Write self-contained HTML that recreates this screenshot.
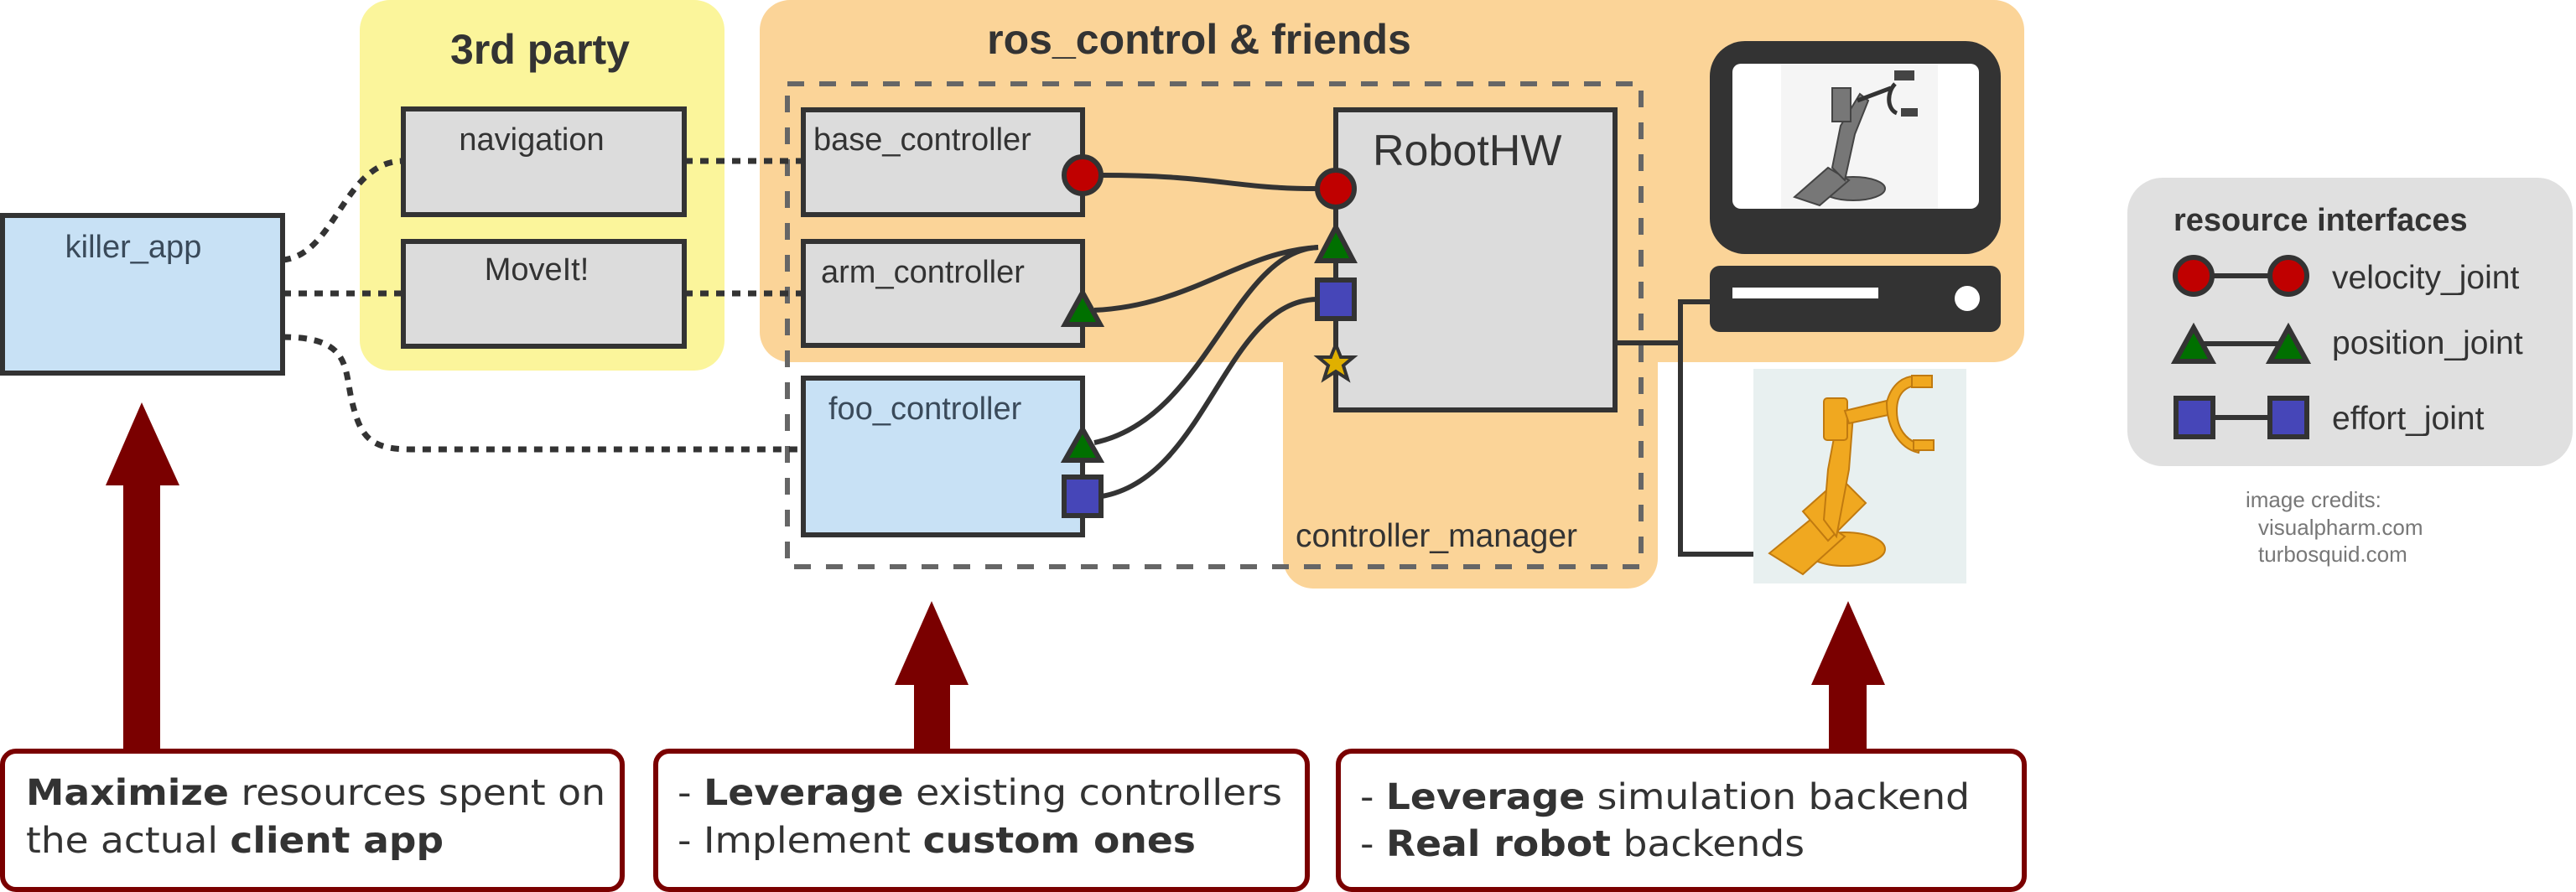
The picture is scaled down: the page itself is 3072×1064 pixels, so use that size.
<!DOCTYPE html>
<html><head><meta charset="utf-8"><style>
html,body{margin:0;padding:0;background:#fff;}
svg{display:block;}
</style></head><body>
<svg width="3072" height="1064" viewBox="0 0 3072 1064" xmlns="http://www.w3.org/2000/svg" font-family="Liberation Sans, sans-serif">
<!-- backgrounds -->
<rect x="429" y="0" width="435" height="442" rx="36" fill="#fbf59b"/>
<path d="M942,0 H2378 A36,36 0 0 1 2414,36 V396 A36,36 0 0 1 2378,432 H1977 V666 A36,36 0 0 1 1941,702 H1566 A36,36 0 0 1 1530,666 V432 H942 A36,36 0 0 1 906,396 V36 A36,36 0 0 1 942,0 Z" fill="#fbd498"/>
<text x="644" y="76" font-size="50" font-weight="bold" fill="#333" text-anchor="middle">3rd party</text>
<text x="1430" y="64" font-size="50" font-weight="bold" fill="#333" text-anchor="middle">ros_control &amp; friends</text>

<!-- dashed controller_manager -->
<rect x="939" y="100" width="1018" height="576" fill="none" stroke="#666" stroke-width="6" stroke-dasharray="20 18"/>
<text x="1545" y="652" font-size="39" fill="#333">controller_manager</text>

<!-- dotted connectors -->
<g fill="none" stroke="#333" stroke-width="7" stroke-dasharray="10 9">
<path d="M337,310 C400,305 410,192 481,192"/>
<path d="M337,350 L481,350"/>
<path d="M337,402 C420,402 410,440 420,480 C430,520 440,536 490,536 L957,536"/>
<path d="M816,192 L957,192"/>
<path d="M816,350 L957,350"/>
</g>

<!-- boxes -->
<g stroke="#333" stroke-width="6">
<rect x="3" y="257" width="334" height="188" fill="#c8e1f5"/>
<rect x="481" y="130" width="335" height="126" fill="#dcdcdc"/>
<rect x="481" y="288" width="335" height="125" fill="#dcdcdc"/>
<rect x="958" y="131" width="333" height="125" fill="#dcdcdc"/>
<rect x="958" y="288" width="333" height="124" fill="#dcdcdc"/>
<rect x="958" y="451" width="333" height="187" fill="#c8e1f5"/>
<rect x="1593" y="131" width="333" height="358" fill="#dcdcdc"/>
</g>
<g font-size="38" fill="#333">
<text x="159" y="307" text-anchor="middle" fill="#3a4a5a">killer_app</text>
<text x="634" y="179" text-anchor="middle">navigation</text>
<text x="640" y="334" text-anchor="middle">MoveIt!</text>
<text x="970" y="179">base_controller</text>
<text x="979" y="337">arm_controller</text>
<text x="988" y="500" fill="#3a4a5a">foo_controller</text>
</g>
<text x="1637" y="197" font-size="52" fill="#333">RobotHW</text>

<!-- solid connectors -->
<g fill="none" stroke="#333" stroke-width="6">
<path d="M1314,209 C1450,209 1470,225 1570,225"/>
<path d="M1305,370 C1420,365 1480,300 1572,295"/>
<path d="M1305,528 C1440,500 1470,300 1572,295"/>
<path d="M1314,592 C1440,570 1460,360 1570,357"/>
<path d="M1926,409 H2004"/>
<path d="M2039,360 H2004 V661 H2109"/>
</g>

<!-- interface symbols -->
<g stroke="#333" stroke-width="6">
<circle cx="1291" cy="209" r="22" fill="#c00000"/>
<circle cx="1593" cy="225" r="22" fill="#c00000"/>
<polygon points="1593,271 1614,311 1572,311" fill="#007000"/>
<rect x="1571" y="334" width="44" height="46" fill="#4646b8"/>
<polygon points="1291,349 1312,387 1270,387" fill="#007000"/>
<polygon points="1291,512 1312,549 1270,549" fill="#007000"/>
<rect x="1269" y="569" width="44" height="46" fill="#4646b8"/>
<polygon points="1593,411 1599,426 1614,426 1602,436 1607,452 1593,443 1579,452 1584,436 1572,426 1587,426" fill="#e0b000" stroke-width="4"/>
</g>

<!-- computer -->
<rect x="2039" y="49" width="347" height="254" rx="42" fill="#333"/>
<rect x="2066" y="76" width="294" height="173" rx="10" fill="#fff"/>
<rect x="2124" y="76" width="187" height="173" fill="#f5f5f5"/>
<g fill="#777" stroke="#444" stroke-width="2">
<ellipse cx="2210" cy="225" rx="38" ry="14"/>
<path d="M2140,235 L2180,200 L2205,215 L2170,245 Z"/>
<path d="M2200,215 L2212,160 L2228,120 L2218,112 L2195,150 L2185,200 Z"/>
<rect x="2185" y="105" width="22" height="40"/>
<path d="M2215,120 L2255,105 M2260,100 C2250,110 2250,130 2262,135" fill="none" stroke="#333" stroke-width="5"/>
<rect x="2260" y="85" width="22" height="10" fill="#444"/>
<rect x="2268" y="130" width="18" height="8" fill="#444"/>
</g>
<rect x="2039" y="317" width="347" height="79" rx="12" fill="#333"/>
<rect x="2066" y="343" width="174" height="13" fill="#fff"/>
<circle cx="2346" cy="356" r="15" fill="#fff"/>

<!-- real robot photo -->
<rect x="2091" y="440" width="254" height="256" fill="#e8f0f0"/>
<g fill="#f0a820" stroke="#c07a10" stroke-width="2">
<ellipse cx="2200" cy="655" rx="48" ry="20"/>
<path d="M2110,660 L2165,615 L2200,640 L2150,685 Z"/>
<path d="M2150,610 L2195,570 L2225,600 L2180,645 Z"/>
<path d="M2190,640 L2205,560 L2210,495 L2195,480 L2180,560 L2175,620 Z"/>
<rect x="2175" y="475" width="28" height="50" rx="4"/>
<path d="M2200,490 L2250,478 L2252,495 L2205,505 Z"/>
<path d="M2250,480 C2255,460 2270,445 2290,450 L2288,460 C2272,460 2262,470 2262,490 C2262,510 2272,525 2290,530 L2288,540 C2265,535 2250,510 2250,480 Z"/>
<rect x="2280" y="448" width="24" height="14"/>
<rect x="2282" y="525" width="24" height="12"/>
</g>

<!-- legend -->
<rect x="2537" y="212" width="531" height="344" rx="42" fill="#e0e0e0"/>
<text x="2592" y="275" font-size="38" font-weight="bold" fill="#333">resource interfaces</text>
<g stroke="#333" stroke-width="6">
<line x1="2616" y1="329" x2="2729" y2="329"/>
<circle cx="2616" cy="329" r="22" fill="#c00000"/>
<circle cx="2729" cy="329" r="22" fill="#c00000"/>
<line x1="2616" y1="410" x2="2729" y2="410"/>
<polygon points="2616,391 2638,431 2594,431" fill="#007000"/>
<polygon points="2729,391 2751,431 2707,431" fill="#007000"/>
<line x1="2616" y1="498" x2="2729" y2="498"/>
<rect x="2595" y="475" width="44" height="46" fill="#4646b8"/>
<rect x="2707" y="475" width="44" height="46" fill="#4646b8"/>
</g>
<g font-size="39" fill="#333">
<text x="2781" y="344">velocity_joint</text>
<text x="2781" y="422">position_joint</text>
<text x="2781" y="512">effort_joint</text>
</g>
<g font-size="26" fill="#777">
<text x="2678" y="605">image credits:</text>
<text x="2693" y="638">visualpharm.com</text>
<text x="2693" y="670">turbosquid.com</text>
</g>

<!-- arrows -->
<g fill="#7a0000">
<polygon points="169,480 214,579 191,579 191,896 147,896 147,579 126,579"/>
<polygon points="1111,717 1155,817 1133,817 1133,896 1090,896 1090,817 1067,817"/>
<polygon points="2204,717 2248,817 2226,817 2226,896 2181,896 2181,817 2160,817"/>
</g>

<!-- bottom boxes -->
<g fill="#fff" stroke="#7a0000" stroke-width="6">
<rect x="3" y="896" width="739" height="165" rx="16"/>
<rect x="782" y="896" width="777" height="165" rx="16"/>
<rect x="1596" y="896" width="818" height="165" rx="16"/>
</g>
<g font-family="DejaVu Sans, sans-serif" font-size="43" fill="#333">
<text x="31" y="960" textLength="691" lengthAdjust="spacingAndGlyphs"><tspan font-weight="bold">Maximize</tspan> resources spent on</text>
<text x="31" y="1017" textLength="498" lengthAdjust="spacingAndGlyphs">the actual <tspan font-weight="bold">client app</tspan></text>
<text x="808" y="960" textLength="721" lengthAdjust="spacingAndGlyphs">- <tspan font-weight="bold">Leverage</tspan> existing controllers</text>
<text x="808" y="1017" textLength="618" lengthAdjust="spacingAndGlyphs">- Implement <tspan font-weight="bold">custom ones</tspan></text>
<text x="1622" y="965" textLength="727" lengthAdjust="spacingAndGlyphs">- <tspan font-weight="bold">Leverage</tspan> simulation backend</text>
<text x="1622" y="1021" textLength="530" lengthAdjust="spacingAndGlyphs">- <tspan font-weight="bold">Real robot</tspan> backends</text>
</g>
</svg>
</body></html>
